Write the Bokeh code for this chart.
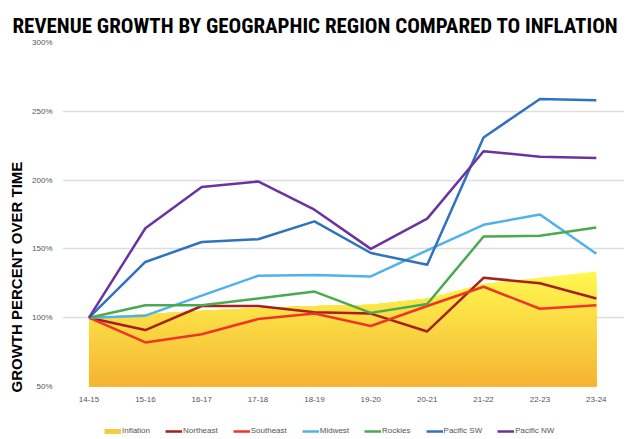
import numpy as np
from bokeh.plotting import figure
from bokeh.layouts import column
from bokeh.models import Title, Legend, LegendItem, FixedTicker
from bokeh.embed import file_html
from bokeh.resources import INLINE

years = ["14-15", "15-16", "16-17", "17-18", "18-19", "19-20", "20-21", "21-22", "22-23", "23-24"]
inflation = [100, 102.5, 105, 107, 108.5, 109.5, 114, 124.5, 129, 133.5]
northeast = [100, 91, 108.5, 108.5, 104, 103, 90, 129, 125, 114]
southeast = [100, 82, 88, 99, 103, 94, 108.5, 122.5, 106.5, 109]
midwest = [100, 101.5, 116, 130.5, 131, 130, 149, 167.5, 175, 146.5]
rockies = [100, 109, 109, 114, 119, 103.5, 110, 159, 159.5, 165.5]
pacific_sw = [100, 140.5, 155, 157, 170, 147, 138.5, 231, 259, 258]
pacific_nw = [100, 165, 195, 199, 178.5, 150, 172, 221, 217, 216]
y_ticks = [50, 100, 150, 200, 250, 300]

x = list(range(len(years)))

p = figure(width=624, height=404, x_range=(-0.47, 9.5), y_range=(50, 300),
           output_backend="svg", toolbar_location=None,
           min_border_left=49, min_border_right=0, min_border_top=42, min_border_bottom=18)
p.outline_line_color = None

p.title.text = "REVENUE GROWTH BY GEOGRAPHIC REGION COMPARED TO INFLATION"
p.title.align = "left"
p.title.offset = -50
p.title.text_font = "Roboto Condensed"
p.title.text_font_size = "21px"
p.title.text_font_style = "bold"
p.title.text_color = "black"

# gradient-filled inflation area
base = 50.0
top = max(inflation)
N = 40
c_top = np.array([255, 248, 80])
c_bot = np.array([245, 178, 50])
infl = np.array(inflation, dtype=float)
for k in range(N, 0, -1):
    lvl = base + (top - base) * k / N
    t = (lvl - base) / (top - base)
    c = c_bot + (c_top - c_bot) * t
    col = "#%02x%02x%02x" % tuple(int(round(v)) for v in c)
    y2 = [float(v) for v in np.minimum(infl, lvl)]
    p.varea(x=x, y1=[base] * len(x), y2=y2, fill_color=col, fill_alpha=1.0)

series = [
    ("Northeast", northeast, "#A71F1F"),
    ("Southeast", southeast, "#EF3527"),
    ("Midwest", midwest, "#4FB2EA"),
    ("Rockies", rockies, "#4AAA50"),
    ("Pacific SW", pacific_sw, "#2F72BF"),
    ("Pacific NW", pacific_nw, "#6B33A0"),
]

for name, vals, col in series:
    p.line(x=x, y=vals, line_color=col, line_width=2.5, line_join="round")

# axes
p.xaxis.ticker = FixedTicker(ticks=x)
p.xaxis.major_label_overrides = {i: y for i, y in enumerate(years)}
p.yaxis.ticker = FixedTicker(ticks=y_ticks)
p.yaxis.major_label_overrides = {v: "%d%%" % v for v in y_ticks}
for ax in (p.xaxis[0], p.yaxis[0]):
    ax.axis_line_color = None
    ax.major_tick_line_color = None
    ax.minor_tick_line_color = None
    ax.major_label_text_font = "Liberation Sans"
    ax.major_label_text_font_size = "8px"
    ax.major_label_text_color = "#555555"
p.xaxis.major_label_standoff = 4
p.yaxis.major_label_standoff = 4

ytitle = Title(text="GROWTH PERCENT OVER TIME", align="left", offset=-6,
               text_font="Liberation Sans", text_font_style="bold",
               text_font_size="15px", text_color="black")
p.add_layout(ytitle, "left")

p.xgrid.grid_line_color = None
p.ygrid.grid_line_color = "#DDDDDD"
p.ygrid.grid_line_width = 1.5
p.ygrid.ticker = FixedTicker(ticks=y_ticks)

# legend strip (separate figure below the chart)
pl = figure(width=624, height=33, x_range=(0, 1), y_range=(0, 1),
            output_backend="svg", toolbar_location=None, min_border=0)
pl.outline_line_color = None
pl.axis.visible = False
pl.grid.visible = False

leg_entries = [("Inflation", "#F6CB42", 5)] + [(n, c, 2.5) for n, _, c in series]
items = []
for name, col, w in leg_entries:
    r = pl.line(x=[0, 0], y=[0, 0], line_color=col, line_width=w)
    items.append(LegendItem(label=name, renderers=[r]))

legend = Legend(items=items, orientation="horizontal", location=(42, 2),
                label_text_font="Liberation Sans", label_text_font_size="8px",
                label_text_color="#555555", glyph_width=17, glyph_height=8,
                label_standoff=1, spacing=15, padding=0, margin=0,
                border_line_color=None, background_fill_alpha=0)
pl.add_layout(legend)

layout = column(p, pl, spacing=0)
open("out.html", "w").write(file_html(layout, INLINE))
